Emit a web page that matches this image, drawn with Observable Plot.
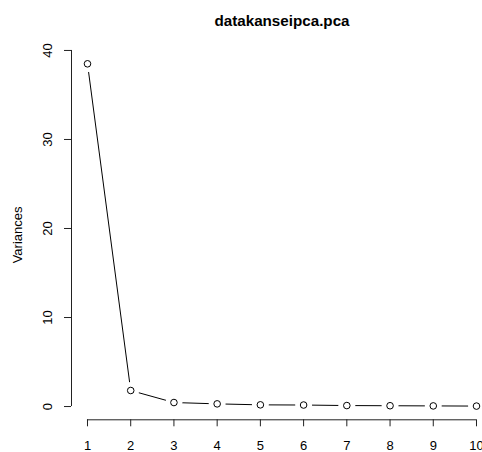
<!DOCTYPE html>
<html>
<head>
<meta charset="utf-8">
<script src="https://cdn.jsdelivr.net/npm/d3@7"></script>
<script src="https://cdn.jsdelivr.net/npm/@observablehq/plot@0.6"></script>
<style>
  html, body { margin: 0; padding: 0; background: white; overflow: hidden; }
  #chart { width: 482px; height: 452px; }
</style>
</head>
<body>
<div id="chart"></div>
<script>
const title = "datakanseipca.pca";
const yLabel = "Variances";
const components = [1, 2, 3, 4, 5, 6, 7, 8, 9, 10];
const variances = [38.5, 1.8, 0.45, 0.3, 0.19, 0.17, 0.11, 0.09, 0.07, 0.05];
const xTicks = [1, 2, 3, 4, 5, 6, 7, 8, 9, 10];
const yTicks = [0, 10, 20, 30, 40];

const data = components.map((c, i) => ({pc: c, v: variances[i]}));
const xDomain = [0.63, 10.139];
const yDomain = [-1.49, 40.04];

const chart = Plot.plot({
  width: 482,
  height: 452,
  marginLeft: 71,
  marginRight: 0,
  marginTop: 49.6,
  marginBottom: 32.7,
  style: {fontFamily: "'Liberation Sans', Arial, Helvetica, sans-serif", fontSize: "13px", color: "black", background: "white"},
  x: {domain: xDomain, axis: null},
  y: {domain: yDomain, axis: null},
  marks: [
    // y axis line and ticks
    Plot.ruleX([xDomain[0]], {y1: d3.min(yTicks), y2: d3.max(yTicks), stroke: "#222"}),
    Plot.axisY({ticks: yTicks, tickSize: 7, tickFormat: () => "", label: null, stroke: "#222"}),
    Plot.text(yTicks, {y: d => d, text: d => String(d), frameAnchor: "left", dx: -23.5, rotate: -90, textAnchor: "middle", lineAnchor: "middle", fontSize: 13, fill: "black"}),
    Plot.text([yLabel], {text: d => d, frameAnchor: "left", dx: -53.5, rotate: -90, textAnchor: "middle", lineAnchor: "middle", fontSize: 13, fill: "black"}),
    // x axis line and ticks
    Plot.ruleY([yDomain[0]], {x1: d3.min(xTicks), x2: d3.max(xTicks), stroke: "#222"}),
    Plot.axisX({ticks: xTicks, tickSize: 7, tickPadding: 13.5, tickFormat: d => String(d), label: null, fontSize: 13, stroke: "#222"}),
    // series
    Plot.line(data, {x: "pc", y: "v", stroke: "black", strokeWidth: 1}),
    Plot.dot(data, {x: "pc", y: "v", r: 8.5, fill: "white", stroke: "none"}),
    Plot.dot(data, {x: "pc", y: "v", r: 3.3, fill: "white", stroke: "black", strokeWidth: 1}),
    // title
    Plot.text([title], {text: d => d, frameAnchor: "top", dx: 5, dy: -29, lineAnchor: "middle", textAnchor: "middle", fontWeight: "bold", fontSize: 15.2, fill: "black"})
  ]
});
document.getElementById("chart").appendChild(chart);
</script>
</body>
</html>
